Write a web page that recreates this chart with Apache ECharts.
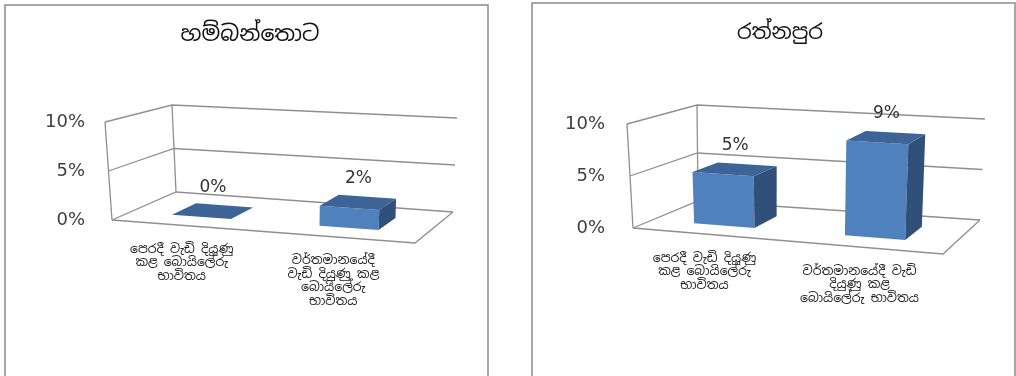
<!DOCTYPE html>
<html><head><meta charset="utf-8">
<script src="https://cdn.jsdelivr.net/npm/echarts@6/dist/echarts.min.js"></script>
<style>html,body{margin:0;padding:0;background:#fff}#c{width:1016px;height:376px}</style>
</head><body><div id="c"></div>
<script>
// ---- data ----
const titles = ['හම්බන්තොට', 'රත්නපුර'];
const categories = ['පෙරදී වැඩි දියුණු කළ බොයිලේරු භාවිතය', 'වර්තමානයේදී වැඩි දියුණු කළ බොයිලේරු භාවිතය'];
const categoryLabelsHambantota = ['පෙරදී වැඩි දියුණු\nකළ බොයිලේරු\nභාවිතය', 'වර්තමානයේදී\nවැඩි දියුණු කළ\nබොයිලේරු\nභාවිතය'];
const categoryLabelsRatnapura = ['පෙරදී වැඩි දියුණු\nකළ බොයිලේරු\nභාවිතය', 'වර්තමානයේදී වැඩි\nදියුණු කළ\nබොයිලේරු භාවිතය'];
const valuesHambantota = [0, 2];
const valuesRatnapura = [5, 9];
const yTicks = [0, 5, 10];

// ---- layout (3D frame corners per panel) ----
const SINHALA = "'Noto Sans Sinhala','Iskoola Pota','Nirmala UI',sans-serif";
const panels = [
  { values: valuesHambantota, labels: categoryLabelsHambantota,
    grid: { left: 110, top: 122, width: 305, height: 98 },
    titleX: 245, titleY: 19, titleSize: 22,
    box: { fl0: [112, 220], fr0: [415, 243], fl1: [105, 122], fr1: [421, 137],
           bl0: [176, 192], br0: [453, 212], bl1: [172, 105], br1: [457, 118] } },
  { values: valuesRatnapura, labels: categoryLabelsRatnapura,
    grid: { left: 630, top: 124, width: 312, height: 104 },
    titleX: 775, titleY: 18, titleSize: 21,
    box: { fl0: [633, 228], fr0: [943, 254], fl1: [627, 124], fr1: [948, 144],
           bl0: [698, 201], br0: [980, 220], bl1: [697, 105], br1: [985, 119] } }
];
const C_FRONT = '#4f81bd', C_TOP = '#3c6496', C_SIDE = '#30507a', C_LINE = '#8f8f8f';

function lerp(a, b, t) { return [a[0] + (b[0] - a[0]) * t, a[1] + (b[1] - a[1]) * t]; }
function proj(box, u, v, w) {
  const f = lerp(lerp(box.fl0, box.fr0, u), lerp(box.fl1, box.fr1, u), v);
  const b = lerp(lerp(box.bl0, box.br0, u), lerp(box.bl1, box.br1, u), v);
  return lerp(f, b, w);
}
function norm(params, api, cat, val) {
  const cs = params.coordSys;
  const p = api.coord([cat, val]);
  return [(p[0] - cs.x) / cs.width, (cs.y + cs.height - p[1]) / cs.height];
}

const grids = [], xAxes = [], yAxes = [], series = [];
const yMin = yTicks[0], yMax = yTicks[yTicks.length - 1];

panels.forEach((pn, k) => {
  const box = pn.box;
  grids.push(pn.grid);
  xAxes.push({ type: 'category', gridIndex: k, data: categories, show: false, boundaryGap: true });
  yAxes.push({ type: 'value', gridIndex: k, min: yMin, max: yMax, interval: yTicks[1] - yTicks[0],
    axisLine: { show: false }, axisTick: { show: false }, splitLine: { show: false },
    axisLabel: { formatter: '{value}%', margin: 25, fontSize: 18, color: '#404040', fontFamily: 'DejaVu Sans' } });
  // back / side wall gridlines
  series.push({ type: 'custom', xAxisIndex: k, yAxisIndex: k, silent: true, z: 1,
    data: yTicks.map(t => [0, t]),
    renderItem(params, api) {
      const v = norm(params, api, 0, api.value(1))[1];
      return { type: 'polyline', shape: { points: [proj(box, 0, v, 0), proj(box, 0, v, 1), proj(box, 1, v, 1)] },
        style: { stroke: C_LINE, lineWidth: 1.3, fill: null } };
    } });
  // frame: verticals + floor
  series.push({ type: 'custom', xAxisIndex: k, yAxisIndex: k, silent: true, z: 1,
    data: [[0, yMin, yMax]],
    renderItem(params, api) {
      const v0 = norm(params, api, 0, api.value(1))[1], v1 = norm(params, api, 0, api.value(2))[1];
      const st = { stroke: C_LINE, lineWidth: 1.3, fill: null };
      return { type: 'group', children: [
        { type: 'polyline', shape: { points: [proj(box, 0, v0, 0), proj(box, 0, v1, 0)] }, style: st },
        { type: 'polyline', shape: { points: [proj(box, 0, v0, 1), proj(box, 0, v1, 1)] }, style: st },
        { type: 'polyline', shape: { points: [proj(box, 0, v0, 0), proj(box, 1, v0, 0), proj(box, 1, v0, 1)] }, style: st }
      ] };
    } });
  // 3D bars + labels
  series.push({ type: 'custom', xAxisIndex: k, yAxisIndex: k, silent: true, z: 2,
    data: pn.values.map((v, i) => [i, v]),
    renderItem(params, api) {
      const cat = api.value(0), val = api.value(1);
      const cs = params.coordSys;
      const c = norm(params, api, cat, val);
      const v0 = norm(params, api, cat, 0)[1], v1 = c[1];
      const cw = api.size([1, 0])[0] / cs.width;
      const uc = c[0] - 0.012;
      const u0 = uc - 0.2 * cw, u1 = uc + 0.2 * cw, w0 = 0.3, w1 = 0.7;
      const P = (u, v, w) => proj(box, u, v, w);
      const ch = [];
      if (v1 > v0 + 1e-6) {
        ch.push({ type: 'polygon', shape: { points: [P(u0, v0, w0), P(u1, v0, w0), P(u1, v1, w0), P(u0, v1, w0)] }, style: { fill: C_FRONT } });
        ch.push({ type: 'polygon', shape: { points: [P(u1, v0, w0), P(u1, v0, w1), P(u1, v1, w1), P(u1, v1, w0)] }, style: { fill: C_SIDE } });
      }
      ch.push({ type: 'polygon', shape: { points: [P(u0, v1, w0), P(u1, v1, w0), P(u1, v1, w1), P(u0, v1, w1)] }, style: { fill: C_TOP } });
      const t = P(uc, v1, 0.5);
      ch.push({ type: 'text', style: { text: val + '%', x: t[0], y: t[1] - 24, align: 'center', verticalAlign: 'middle',
        fontSize: 17, fill: '#333', fontFamily: 'DejaVu Sans' } });
      const b = P(c[0], v0, 0);
      ch.push({ type: 'text', style: { text: pn.labels[cat], x: b[0] - 6, y: b[1] + 17, align: 'center', verticalAlign: 'top',
        fontSize: 12.5, lineHeight: 13.5, fill: '#222', fontFamily: SINHALA } });
      return { type: 'group', children: ch };
    } });
});

const chart = echarts.init(document.getElementById('c'), null, { renderer: 'canvas' });
chart.setOption({
  animation: false,
  backgroundColor: '#fff',
  title: panels.map((pn, k) => ({ text: titles[k], left: pn.titleX, top: pn.titleY, textAlign: 'center',
    textStyle: { fontSize: pn.titleSize, fontWeight: 'normal', color: '#111', fontFamily: SINHALA } })),
  graphic: [
    { type: 'rect', shape: { x: 5, y: 5, width: 483, height: 380 }, style: { fill: null, stroke: '#8c8c8c', lineWidth: 1.5 }, silent: true },
    { type: 'rect', shape: { x: 532, y: 3, width: 483, height: 382 }, style: { fill: null, stroke: '#8c8c8c', lineWidth: 1.5 }, silent: true }
  ],
  grid: grids, xAxis: xAxes, yAxis: yAxes, series: series
});
</script></body></html>
